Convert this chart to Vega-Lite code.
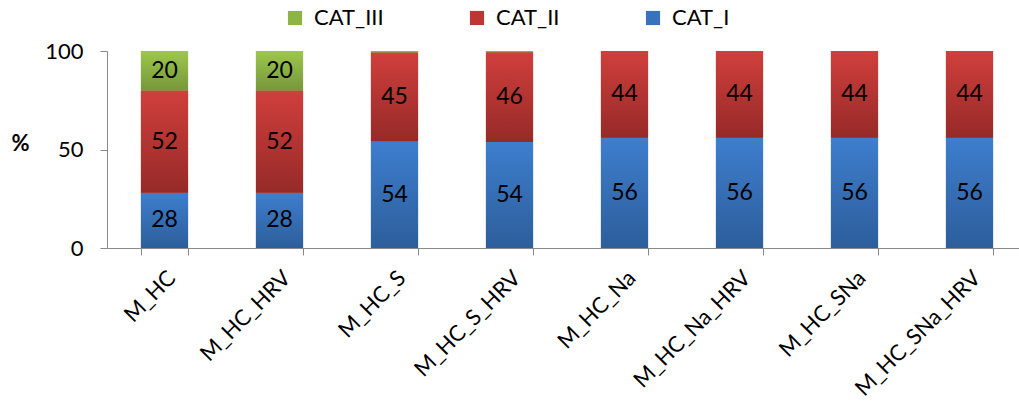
{
  "$schema": "https://vega.github.io/schema/vega-lite/v6.json",
  "autosize": "none",
  "width": 912,
  "height": 197,
  "padding": {"left": 107, "top": 51, "right": 0, "bottom": 164},
  "config": {"view": {"stroke": null}, "font": "Lato"},
  "data": {"values": [
    {"model": "M_HC", "cat": "CAT_I", "value": 28},
    {"model": "M_HC", "cat": "CAT_II", "value": 52},
    {"model": "M_HC", "cat": "CAT_III", "value": 20},
    {"model": "M_HC_HRV", "cat": "CAT_I", "value": 28},
    {"model": "M_HC_HRV", "cat": "CAT_II", "value": 52},
    {"model": "M_HC_HRV", "cat": "CAT_III", "value": 20},
    {"model": "M_HC_S", "cat": "CAT_I", "value": 54.2},
    {"model": "M_HC_S", "cat": "CAT_II", "value": 45.1},
    {"model": "M_HC_S", "cat": "CAT_III", "value": 0.7},
    {"model": "M_HC_S_HRV", "cat": "CAT_I", "value": 53.8},
    {"model": "M_HC_S_HRV", "cat": "CAT_II", "value": 45.6},
    {"model": "M_HC_S_HRV", "cat": "CAT_III", "value": 0.6},
    {"model": "M_HC_Na", "cat": "CAT_I", "value": 56},
    {"model": "M_HC_Na", "cat": "CAT_II", "value": 44},
    {"model": "M_HC_Na_HRV", "cat": "CAT_I", "value": 56},
    {"model": "M_HC_Na_HRV", "cat": "CAT_II", "value": 44},
    {"model": "M_HC_SNa", "cat": "CAT_I", "value": 56},
    {"model": "M_HC_SNa", "cat": "CAT_II", "value": 44},
    {"model": "M_HC_SNa_HRV", "cat": "CAT_I", "value": 56},
    {"model": "M_HC_SNa_HRV", "cat": "CAT_II", "value": 44}
  ]},
  "transform": [
    {"stack": "value", "groupby": ["model"], "as": ["v0", "v1"], "sort": [{"field": "cat", "order": "ascending"}]},
    {"calculate": "(datum.v0 + datum.v1) / 2", "as": "mid"}
  ],
  "encoding": {
    "x": {
      "field": "model", "type": "nominal", "sort": null,
      "scale": {"range": [0, 920], "paddingInner": 0.59, "paddingOuter": 0.295},
      "axis": {
        "title": null, "labelAngle": -45, "labelFontSize": 22, "labelColor": "#000",
        "labelPadding": 12, "labelDx": -5, "tickBand": "extent", "tickSize": 7,
        "domainColor": "#898989", "tickColor": "#898989", "labelBound": false, "labelOverlap": false
      }
    }
  },
  "layer": [
    {
      "mark": {"type": "bar"},
      "encoding": {
        "y": {"field": "v0", "type": "quantitative", "scale": {"domain": [0, 100], "nice": false},
          "axis": {"values": [0, 50, 100], "grid": false, "title": "%", "titleAngle": 0, "titleFontSize": 22,
            "titleFontWeight": "bold", "titleX": -87, "titleY": 104, "labelFontSize": 22, "labelColor": "#000",
            "domainColor": "#898989", "tickColor": "#898989", "tickSize": 7, "labelPadding": 17, "titleColor": "#000"}},
        "y2": {"field": "v1"},
        "color": {"field": "cat", "type": "nominal",
          "scale": {"domain": ["CAT_III", "CAT_II", "CAT_I"], "range": ["#8DB543", "#BE3633", "#3872BC"]},
          "legend": {"title": null, "orient": "none", "direction": "horizontal", "legendX": 177, "legendY": -44,
            "symbolType": "square", "symbolSize": 200, "labelFontSize": 22, "labelColor": "#000",
            "columnPadding": 82, "labelOffset": 8, "symbolStrokeWidth": 0}}
      }
    },
    {
      "transform": [{"filter": "datum.cat == 'CAT_I'"}],
      "mark": {"type": "bar", "color": {"gradient": "linear", "x1": 0, "y1": 0, "x2": 0, "y2": 1,
        "stops": [{"offset": 0, "color": "#3D7ECE"}, {"offset": 1, "color": "#2D5E9B"}]}},
      "encoding": {"y": {"field": "v0", "type": "quantitative"}, "y2": {"field": "v1"}}
    },
    {
      "transform": [{"filter": "datum.cat == 'CAT_II'"}],
      "mark": {"type": "bar", "color": {"gradient": "linear", "x1": 0, "y1": 0, "x2": 0, "y2": 1,
        "stops": [{"offset": 0, "color": "#D03F3C"}, {"offset": 1, "color": "#962A28"}]}},
      "encoding": {"y": {"field": "v0", "type": "quantitative"}, "y2": {"field": "v1"}}
    },
    {
      "transform": [{"filter": "datum.cat == 'CAT_III'"}],
      "mark": {"type": "bar", "color": {"gradient": "linear", "x1": 0, "y1": 0, "x2": 0, "y2": 1,
        "stops": [{"offset": 0, "color": "#9DC74C"}, {"offset": 1, "color": "#76973B"}]}},
      "encoding": {"y": {"field": "v0", "type": "quantitative"}, "y2": {"field": "v1"}}
    },
    {
      "transform": [{"filter": "datum.value >= 5"}],
      "mark": {"type": "text", "fontSize": 23, "color": "#000", "baseline": "middle", "align": "center"},
      "encoding": {
        "y": {"field": "mid", "type": "quantitative"},
        "text": {"field": "value", "type": "quantitative", "format": ".0f"}
      }
    }
  ]
}
